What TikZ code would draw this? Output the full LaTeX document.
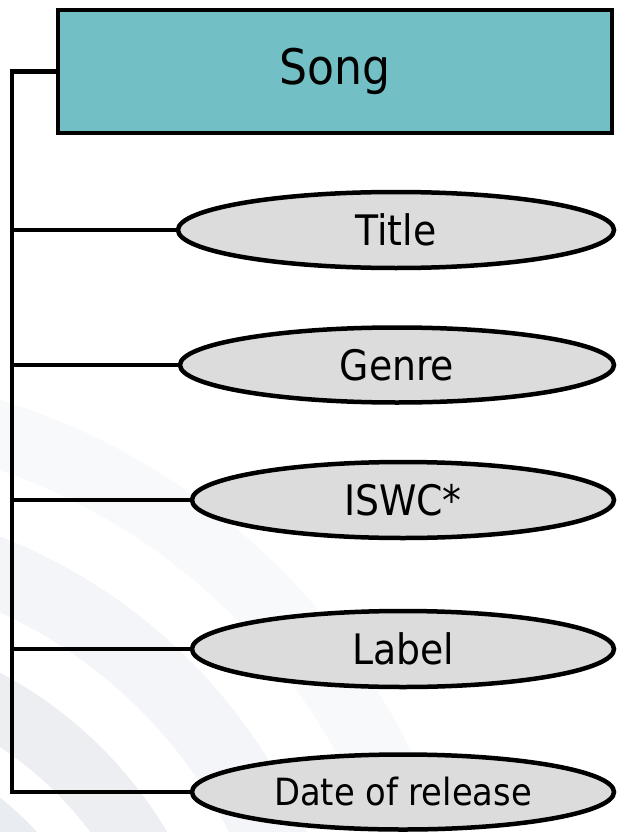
\documentclass[tikz,border=0pt]{standalone}
\usepackage{fontspec}
\setmainfont{DejaVu Sans Condensed}
\usetikzlibrary{shapes.geometric}
\definecolor{teal}{HTML}{72BFC5}
\definecolor{attr}{HTML}{DCDCDC}
\definecolor{bgA}{HTML}{F8F9FA}
\definecolor{bgB}{HTML}{F4F5F8}
\definecolor{bgC}{HTML}{ECEEF2}
\definecolor{bgD}{HTML}{E9ECF0}
\tikzset{
  entity/.style={draw=black, line width=4.5pt, fill=teal, minimum width=554pt, minimum height=123pt, inner sep=0pt, font=\fontsize{49}{56}\selectfont},
  attrib/.style={ellipse, draw=black, line width=4.5pt, fill=attr, inner sep=0pt, font=\fontsize{42}{48}\selectfont},
  link/.style={line width=4.5pt, line cap=rect}
}
\begin{document}
\begin{tikzpicture}[x=1pt,y=-1pt]
\useasboundingbox (0,0) rectangle (618,832);
% background watermark arcs
\begin{scope}
\clip (0,0) rectangle (618,832);
\fill[bgA, even odd rule] (-200,1050) circle (680) (-200,1050) circle (613);
\fill[bgB, even odd rule] (-200,1050) circle (551) (-200,1050) circle (481);
\fill[bgC, even odd rule] (-200,1050) circle (427) (-200,1050) circle (363);
\fill[bgD, even odd rule] (-200,1050) circle (322) (-200,1050) circle (280);
\end{scope}
\node[entity] (song) at (335,71.5) {\raisebox{-3pt}{Song}};
\node[attrib, minimum width=436pt, minimum height=76pt] (title) at (396,230) {Title};
\node[attrib, minimum width=434pt, minimum height=75pt] (genre) at (397,365) {Genre};
\node[attrib, minimum width=422pt, minimum height=76pt] (iswc) at (403,500) {ISWC*};
\node[attrib, minimum width=422pt, minimum height=76pt] (label) at (403,649) {Label};
\node[attrib, minimum width=422pt, minimum height=75pt, font=\fontsize{37.5}{42}\selectfont] (date) at (403,792) {Date of release};
\coordinate (top) at (12,71.5);
\coordinate (bot) at (12,790);
\draw[link] (song.west) -- (top) -- (bot |- date.west) -- (date.west);
\draw[link] (title.west) -- (title.west -| top);
\draw[link] (genre.west) -- (genre.west -| top);
\draw[link] (iswc.west) -- (iswc.west -| top);
\draw[link] (label.west) -- (label.west -| top);
\end{tikzpicture}
\end{document}
